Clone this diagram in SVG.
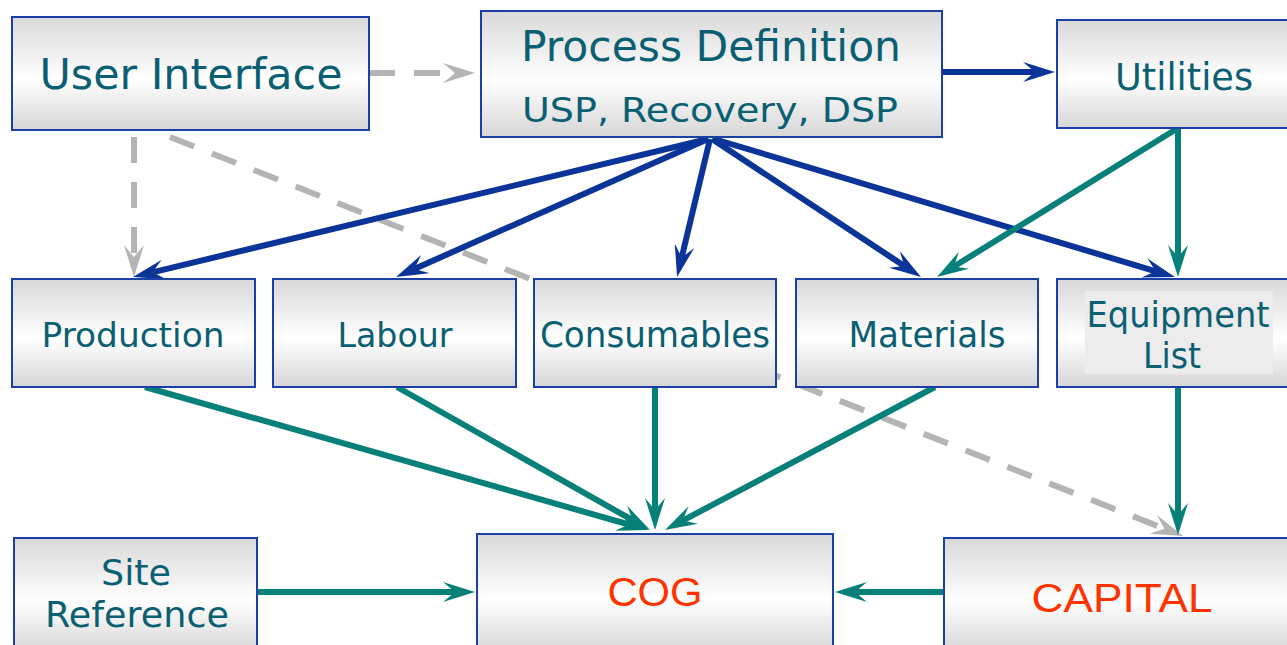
<svg xmlns="http://www.w3.org/2000/svg" width="1287" height="645" viewBox="0 0 1287 645">
<defs>
<linearGradient id="g" x1="0" y1="0" x2="0" y2="1">
<stop offset="0" stop-color="#d9d9d9"/>
<stop offset="0.55" stop-color="#ffffff"/>
<stop offset="1" stop-color="#d6d6d6"/>
</linearGradient>
<marker id="mb" markerUnits="userSpaceOnUse" viewBox="0 0 32 20" refX="12" refY="10" markerWidth="32" markerHeight="20" orient="auto"><path d="M0,0 L32,10 L0,20 L12,10 Z" fill="#0b3499"/></marker>
<marker id="mt" markerUnits="userSpaceOnUse" viewBox="0 0 32 20" refX="12" refY="10" markerWidth="32" markerHeight="20" orient="auto"><path d="M0,0 L32,10 L0,20 L12,10 Z" fill="#08807a"/></marker>
<marker id="mg" markerUnits="userSpaceOnUse" viewBox="0 0 32 20" refX="12" refY="10" markerWidth="32" markerHeight="20" orient="auto"><path d="M0,0 L32,10 L0,20 L12,10 Z" fill="#b4b4b4"/></marker>
<style>
.box{fill:url(#g);stroke:#1a3fa5;stroke-width:2}
.t{font-family:"DejaVu Sans",Verdana,sans-serif;fill:#0b5f72;text-anchor:middle}
.r{font-family:"Liberation Sans",Arial,sans-serif;fill:#ff3300;text-anchor:middle}
.b{stroke:#0b3499;stroke-width:6;fill:none;marker-end:url(#mb)}
.c{stroke:#08807a;stroke-width:6;fill:none;marker-end:url(#mt)}
.d{stroke:#b4b4b4;stroke-width:6;fill:none;stroke-dasharray:26 19;marker-end:url(#mg)}
</style>
</defs>
<rect width="1287" height="645" fill="#ffffff"/>
<g id="connectors">
<line class="d" x1="369" y1="73" x2="455" y2="73"/>
<line class="d" x1="134" y1="137" x2="134" y2="257"/>
<line class="d" x1="170" y1="137" x2="1164.4" y2="528.7"/>
<line class="b" x1="942" y1="72" x2="1035" y2="72"/>
<line class="b" x1="708" y1="139" x2="152.4" y2="272.3"/>
<line class="b" x1="708" y1="139" x2="414.3" y2="268.9"/>
<line class="b" x1="710" y1="139" x2="681.7" y2="257.5"/>
<line class="b" x1="712" y1="139" x2="904.3" y2="266"/>
<line class="b" x1="714" y1="139" x2="1155.8" y2="271.3"/>
<line class="c" x1="1178" y1="128" x2="954" y2="266.5"/>
<line class="c" x1="1178" y1="128" x2="1178" y2="257"/>
<line class="c" x1="145" y1="387" x2="628.8" y2="524.5"/>
<line class="c" x1="397" y1="387" x2="632.6" y2="520.2"/>
<line class="c" x1="655" y1="387" x2="655" y2="510"/>
<line class="c" x1="935" y1="387" x2="682.7" y2="520.6"/>
<line class="c" x1="1178" y1="387" x2="1178" y2="515"/>
<line class="c" x1="257" y1="592" x2="455" y2="592"/>
<line class="c" x1="944" y1="592" x2="855" y2="592"/>
</g>
<g id="user-interface">
<rect class="box" x="12" y="17" width="357" height="113"/>
<text class="t" x="191" y="89" font-size="43" textLength="303" lengthAdjust="spacingAndGlyphs">User Interface</text>
</g>
<g id="process-definition">
<rect class="box" x="481" y="11" width="461" height="126"/>
<text class="t" x="711" y="61" font-size="42" textLength="380" lengthAdjust="spacingAndGlyphs">Process Definition</text>
<text class="t" x="710" y="122" font-size="34" textLength="376" lengthAdjust="spacingAndGlyphs">USP, Recovery, DSP</text>
</g>
<g id="utilities">
<rect class="box" x="1057" y="20" width="240" height="108"/>
<text class="t" x="1184" y="90" font-size="37" textLength="138" lengthAdjust="spacingAndGlyphs">Utilities</text>
</g>
<g id="production">
<rect class="box" x="12" y="279" width="243" height="108"/>
<text class="t" x="133" y="347" font-size="33" textLength="183" lengthAdjust="spacingAndGlyphs">Production</text>
</g>
<g id="labour">
<rect class="box" x="273" y="279" width="243" height="108"/>
<text class="t" x="395" y="347" font-size="33" textLength="115" lengthAdjust="spacingAndGlyphs">Labour</text>
</g>
<g id="consumables">
<rect class="box" x="534" y="279" width="242" height="108"/>
<text class="t" x="655" y="347" font-size="35" textLength="230" lengthAdjust="spacingAndGlyphs">Consumables</text>
</g>
<g id="materials">
<rect class="box" x="796" y="279" width="242" height="108"/>
<text class="t" x="927" y="347" font-size="35" textLength="157" lengthAdjust="spacingAndGlyphs">Materials</text>
</g>
<g id="equipment-list">
<rect class="box" x="1057" y="279" width="240" height="108"/>
<rect x="1085" y="291" width="188" height="83" fill="#ececec"/>
<text class="t" x="1178" y="327" font-size="35" textLength="183" lengthAdjust="spacingAndGlyphs">Equipment</text>
<text class="t" x="1172" y="368" font-size="35" textLength="58" lengthAdjust="spacingAndGlyphs">List</text>
</g>
<g id="site-reference">
<rect class="box" x="14" y="538" width="243" height="115"/>
<text class="t" x="136" y="585" font-size="36" textLength="70" lengthAdjust="spacingAndGlyphs">Site</text>
<text class="t" x="137" y="627" font-size="36" textLength="184" lengthAdjust="spacingAndGlyphs">Reference</text>
</g>
<g id="cog">
<rect class="box" x="477" y="534" width="356" height="119"/>
<text class="r" x="655" y="606" font-size="40" textLength="95" lengthAdjust="spacingAndGlyphs">COG</text>
</g>
<g id="capital">
<rect class="box" x="944" y="538" width="353" height="115"/>
<text class="r" x="1122" y="612" font-size="40" textLength="181" lengthAdjust="spacingAndGlyphs">CAPITAL</text>
</g>
</svg>
